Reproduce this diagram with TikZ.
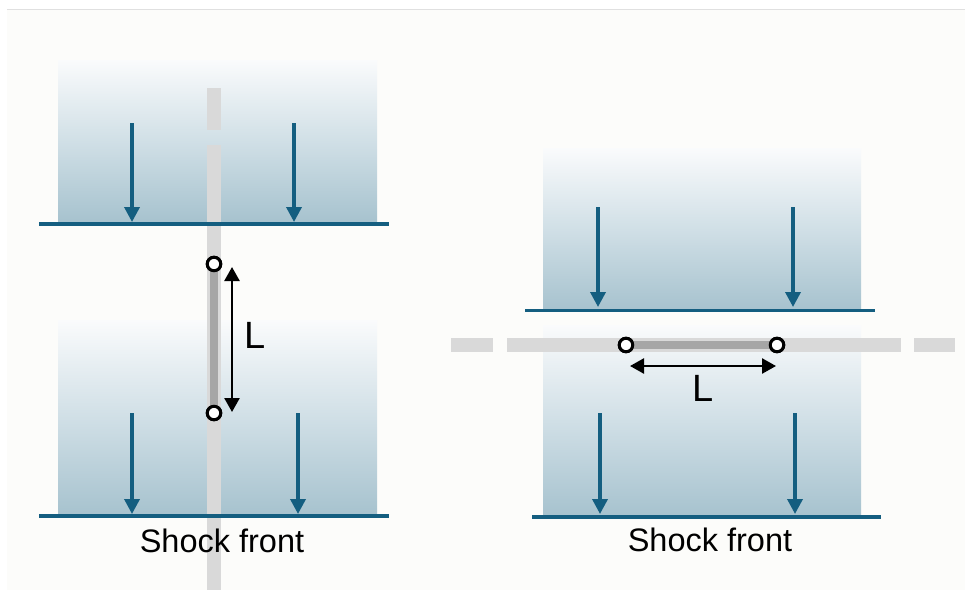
\documentclass[tikz,border=0pt]{standalone}
\usepackage{fontspec}
\setmainfont{Liberation Sans}
\usetikzlibrary{arrows.meta}
\definecolor{bgcol}{HTML}{FCFCFA}
\definecolor{shockblue}{HTML}{145E80}
\definecolor{boxtop}{HTML}{FAFBFC}
\definecolor{boxmid}{HTML}{D0DFE6}
\definecolor{boxbot}{HTML}{A6C2CE}
\definecolor{barlight}{HTML}{D9D9D9}
\definecolor{bardark}{HTML}{A6A6A6}
\pgfdeclareverticalshading{boxshade}{100bp}{color(0bp)=(boxbot); color(25bp)=(boxbot); color(50bp)=(boxmid); color(75bp)=(boxtop); color(100bp)=(boxtop)}
\tikzset{
  flowbox/.style={shading=boxshade, draw=none},
  shockline/.style={draw=shockblue, line width=3.5pt},
  flowarrow/.style={draw=shockblue, line width=3.5pt, -{Triangle[length=15pt 0 0,width=15pt 0 0]}},
  lightbar/.style={draw=barlight, line width=14pt},
  darkbar/.style={draw=bardark, line width=8pt},
  endpt/.style={circle, draw=black, fill=white, line width=3pt, minimum size=13.5pt, inner sep=0pt},
  lenarrow/.style={draw=black, line width=2.5pt, {Triangle[length=14pt 0 0,width=15pt 0 0]}-{Triangle[length=14pt 0 0,width=15pt 0 0]}},
  lenlabel/.style={font=\fontsize{38}{40}\selectfont, inner sep=0pt},
  caption/.style={font=\fontsize{32.5}{34}\selectfont, inner sep=0pt}
}
\begin{document}
\begin{tikzpicture}[x=1pt,y=-1pt]
\useasboundingbox (0,0) rectangle (965,590);
\fill[white] (0,0) rectangle (965,590);
\fill[bgcol] (7,10) rectangle (965,590);
\draw[black!12, line width=1.2pt] (7,9.5) -- (965,9.5);

% ---------- left panel ----------
\path[flowbox] (58,60) rectangle (377,223);
\path[flowbox] (58,320) rectangle (377,516);
% vertical dashed bar
\coordinate (lb1) at (214,88);
\coordinate (lb2) at (214,130);
\coordinate (lb3) at (214,145);
\coordinate (lb4) at (214,590);
\draw[lightbar] (lb1) -- (lb2);
\draw[lightbar] (lb3) -- (lb4);
% shock lines
\coordinate (ls1a) at (39,224);
\coordinate (ls1b) at (389,224);
\coordinate (ls2a) at (39,516);
\coordinate (ls2b) at (389,516);
\draw[shockline] (ls1a) -- (ls1b);
\draw[shockline] (ls2a) -- (ls2b);
% flow arrows
\coordinate (la1s) at (132,123); \coordinate (la1e) at (132,222);
\coordinate (la2s) at (294,123); \coordinate (la2e) at (294,222);
\coordinate (la3s) at (132,413); \coordinate (la3e) at (132,514);
\coordinate (la4s) at (298,413); \coordinate (la4e) at (298,514);
\draw[flowarrow] (la1s) -- (la1e);
\draw[flowarrow] (la2s) -- (la2e);
\draw[flowarrow] (la3s) -- (la3e);
\draw[flowarrow] (la4s) -- (la4e);
% segment
\node[endpt] (lc1) at (214,264) {};
\node[endpt] (lc2) at (214,413) {};
\draw[darkbar] (lc1.center) -- (lc2.center);
\node[endpt] at (lc1) {};
\node[endpt] at (lc2) {};
\coordinate (ll1) at (232,267);
\coordinate (ll2) at (232,412);
\draw[lenarrow] (ll1) -- (ll2);
\node[lenlabel] (lL) at (255,335) {L};
\node[caption] (lsf) at (222,541) {Shock front};

% ---------- right panel ----------
\path[flowbox] (543,148) rectangle (861,311);
\path[flowbox] (543,325) rectangle (861,517);
% horizontal dashed bar
\coordinate (rb1) at (451,345); \coordinate (rb2) at (493,345);
\coordinate (rb3) at (507,345); \coordinate (rb4) at (901,345);
\coordinate (rb5) at (914,345); \coordinate (rb6) at (955,345);
\draw[lightbar] (rb1) -- (rb2);
\draw[lightbar] (rb3) -- (rb4);
\draw[lightbar] (rb5) -- (rb6);
% shock lines
\coordinate (rs1a) at (525,310.5); \coordinate (rs1b) at (875,310.5);
\coordinate (rs2a) at (532,517); \coordinate (rs2b) at (881,517);
\draw[shockline] (rs1a) -- (rs1b);
\draw[shockline] (rs2a) -- (rs2b);
% flow arrows
\coordinate (ra1s) at (598,207); \coordinate (ra1e) at (598,307);
\coordinate (ra2s) at (793,207); \coordinate (ra2e) at (793,307);
\coordinate (ra3s) at (600,413); \coordinate (ra3e) at (600,514);
\coordinate (ra4s) at (795,413); \coordinate (ra4e) at (795,514);
\draw[flowarrow] (ra1s) -- (ra1e);
\draw[flowarrow] (ra2s) -- (ra2e);
\draw[flowarrow] (ra3s) -- (ra3e);
\draw[flowarrow] (ra4s) -- (ra4e);
% segment
\node[endpt] (rc1) at (626,345) {};
\node[endpt] (rc2) at (777,345) {};
\draw[darkbar] (rc1.center) -- (rc2.center);
\node[endpt] at (rc1) {};
\node[endpt] at (rc2) {};
\coordinate (rl1) at (630,366);
\coordinate (rl2) at (776,366);
\draw[lenarrow] (rl1) -- (rl2);
\node[lenlabel] (rL) at (703,388) {L};
\node[caption] (rsf) at (710,540) {Shock front};
\end{tikzpicture}
\end{document}
